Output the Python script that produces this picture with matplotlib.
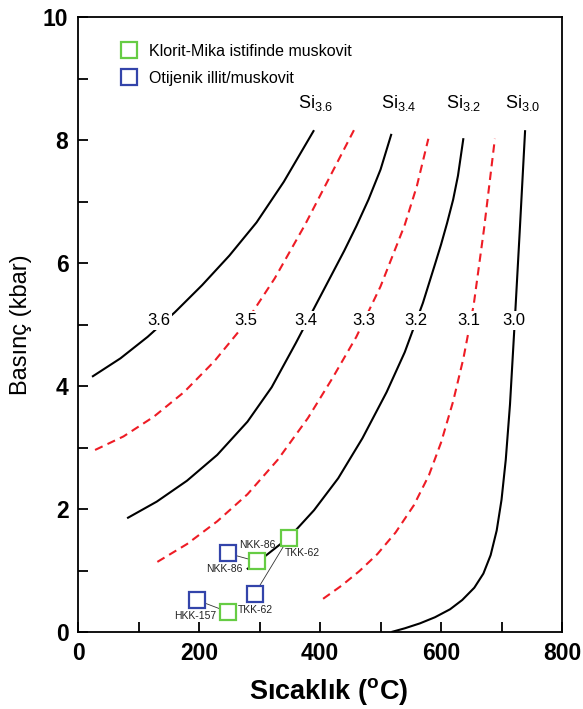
import matplotlib
matplotlib.use('Agg')
import matplotlib.pyplot as plt
from matplotlib.lines import Line2D

plt.rcParams['font.family'] = 'sans-serif'
plt.rcParams['font.sans-serif'] = ['Liberation Sans', 'DejaVu Sans']
plt.rcParams['mathtext.fontset'] = 'custom'
plt.rcParams['mathtext.rm'] = 'Liberation Sans'
plt.rcParams['mathtext.bf'] = 'Liberation Sans:bold'

# Si isopleths: temperature (C), pressure (kbar)
si36T = [23, 70, 115, 160, 205, 250, 295, 340, 390]
si36P = [4.15, 4.45, 4.80, 5.20, 5.64, 6.12, 6.66, 7.32, 8.16]

si35T = [28, 75, 125, 175, 225, 275, 325, 375, 415, 456]
si35P = [2.96, 3.18, 3.50, 3.90, 4.40, 5.00, 5.75, 6.62, 7.38, 8.16]

si34T = [81, 130, 180, 230, 280, 320, 360, 400, 440, 460, 480, 500, 518]
si34P = [1.85, 2.12, 2.46, 2.88, 3.42, 3.98, 4.70, 5.45, 6.20, 6.60, 7.03, 7.52, 8.10]

si33T = [131, 180, 230, 280, 330, 380, 420, 460, 500, 540, 560, 579]
si33P = [1.14, 1.43, 1.80, 2.24, 2.80, 3.48, 4.12, 4.80, 5.62, 6.62, 7.25, 8.02]

si32T = [279, 310, 350, 390, 430, 470, 510, 540, 570, 590, 600, 610, 620, 628, 637]
si32P = [1.02, 1.24, 1.55, 1.98, 2.50, 3.15, 3.90, 4.55, 5.35, 5.98, 6.30, 6.65, 7.03,
         7.42, 8.03]

si31T = [405, 435, 465, 495, 525, 555, 580, 600, 620, 637, 654, 671, 689]
si31P = [0.54, 0.75, 0.99, 1.27, 1.62, 2.06, 2.55, 3.08, 3.75, 4.45, 5.32, 6.55, 8.02]

si30T = [518, 540, 565, 590, 615, 635, 655, 670, 682, 692, 700, 707, 714, 722, 730, 739]
si30P = [0.0, 0.06, 0.14, 0.24, 0.37, 0.52, 0.72, 0.95, 1.25, 1.65, 2.15, 2.80, 3.70,
         5.07, 6.50, 8.16]

isoValues = ['3.6', '3.5', '3.4', '3.3', '3.2', '3.1', '3.0']
labelT = [133, 277, 377, 473, 559, 646, 720]
labelP = 5.07

topLabels = ['3.6', '3.4', '3.2', '3.0']
topLabelT = [363, 501, 609, 705]
topLabelP = 8.6

# samples
samples = ['NKK-86', 'TKK-62', 'HKK-157']
greenT = [295, 348, 247]
greenP = [1.15, 1.53, 0.33]
blueT = [247, 292, 196]
blueP = [1.28, 0.62, 0.52]

sampleText = ['NKK-86', 'NKK-86', 'TKK-62', 'TKK-62', 'HKK-157']
sampleTextT = [266, 272, 342, 264, 229]
sampleTextP = [1.41, 1.02, 1.28, 0.36, 0.26]
sampleTextHa = ['left', 'right', 'left', 'left', 'right']

fig = plt.figure(figsize=(5.83, 7.09), dpi=100)
ax = fig.add_axes([0.134, 0.1086, 0.830, 0.8674])

solid = dict(color='black', lw=1.5, solid_capstyle='butt', solid_joinstyle='round', zorder=2)
dashed = dict(color='#ee1c25', lw=1.5, dashes=(4, 2.6), zorder=2)
ax.plot(si36T, si36P, **solid)
ax.plot(si35T, si35P, **dashed)
ax.plot(si34T, si34P, **solid)
ax.plot(si33T, si33P, **dashed)
ax.plot(si32T, si32P, **solid)
ax.plot(si31T, si31P, **dashed)
ax.plot(si30T, si30P, **solid)

for val, t in zip(isoValues, labelT):
    ax.text(t, labelP, val, fontsize=12, ha='center', va='center', zorder=3,
            bbox=dict(facecolor='white', edgecolor='none', pad=1.5))

for val, t in zip(topLabels, topLabelT):
    ax.text(t, topLabelP, r'$\mathregular{Si_{%s}}$' % val, fontsize=13,
            ha='left', va='center')

# tie lines between sample pairs
for i in range(len(samples)):
    ax.plot([greenT[i], blueT[i]], [greenP[i], blueP[i]], color='#333333',
            lw=0.6, zorder=3)

ax.plot(greenT, greenP, 's', ls='none', ms=12, mfc='white', mec='#66cc44',
        mew=1.6, zorder=4)
ax.plot(blueT, blueP, 's', ls='none', ms=12, mfc='white', mec='#3344aa',
        mew=1.6, zorder=4)

for s, t, p, ha in zip(sampleText, sampleTextT, sampleTextP, sampleTextHa):
    ax.text(t, p, s, fontsize=7.5, ha=ha, va='center', color='#222222', zorder=5)

handles = [
    Line2D([], [], marker='s', ls='none', ms=12, mfc='white', mec='#66cc44', mew=1.6),
    Line2D([], [], marker='s', ls='none', ms=12, mfc='white', mec='#3344aa', mew=1.6),
]
ax.legend(handles, ['Klorit-Mika istifinde muskovit', 'Otijenik illit/muskovit'],
          loc='upper left', bbox_to_anchor=(0.058, 0.967), frameon=False,
          fontsize=11.5, handletextpad=0.25, labelspacing=0.75, borderaxespad=0)

ax.set_xlim(0, 800)
ax.set_ylim(0, 10)
ax.set_xticks(range(0, 801, 100))
ax.set_xticklabels(['0', '', '200', '', '400', '', '600', '', '800'])
ax.set_yticks(range(0, 11))
ax.set_yticklabels(['0', '', '2', '', '4', '', '6', '', '8', '', '10'])
ax.tick_params(direction='in', length=7, width=1.3, labelsize=16.5, pad=7)
for lab in ax.get_xticklabels() + ax.get_yticklabels():
    lab.set_fontweight('bold')
for sp in ax.spines.values():
    sp.set_linewidth(1.3)

ax.set_xlabel(r'Sıcaklık ($\mathbf{^{o}}$C)', fontsize=19.5, fontweight='bold')
ax.xaxis.set_label_coords(0.517, -0.072)
ax.set_ylabel('Basınç (kbar)', fontsize=17, labelpad=8)

fig.savefig('out.png', dpi=100)
